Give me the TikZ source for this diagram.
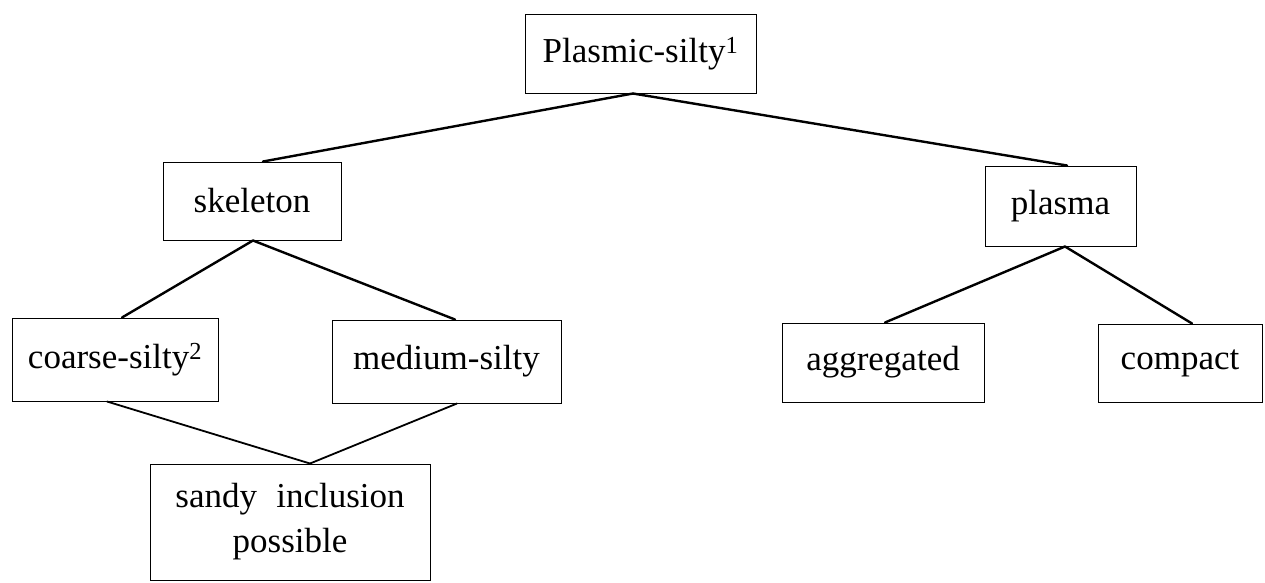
\documentclass[tikz,border=0pt]{standalone}
\usepackage{fontspec}
\setmainfont{Liberation Serif}
\begin{document}
\begin{tikzpicture}[x=1pt,y=-1pt,
  box/.style={draw, line width=1pt, inner sep=0pt,
    font=\fontsize{35}{45}\selectfont},
  link/.style={line width=2.4pt, line cap=round},
  thinlink/.style={line width=1.8pt, line cap=round}]
\useasboundingbox (0,0) rectangle (1265,582);

% classification boxes
\node[box, minimum width=231pt, minimum height=79pt] (top) at (640.5,53.5) {Plasmic-silty\textsuperscript{1}};
\node[box, minimum width=178pt, minimum height=78pt] (skel) at (252,201) {skeleton};
\node[box, minimum width=151pt, minimum height=80pt] (plasma) at (1060.5,206) {plasma};
\node[box, minimum width=206pt, minimum height=83pt] (coarse) at (115,359.5) {coarse-silty\textsuperscript{2}};
\node[box, minimum width=229pt, minimum height=83pt] (medium) at (446.5,361.5) {medium-silty};
\node[box, minimum width=202pt, minimum height=79pt] (aggr) at (883,362.5) {aggregated};
\node[box, minimum width=164pt, minimum height=78pt] (compact) at (1180,363) {compact};
\node[box, minimum width=280pt, minimum height=116pt, align=center] (sandy) at (290,522)
  {sandy\hspace{0.55em}inclusion\\possible};

% tree connectors
\draw[link] ([xshift=-7.5pt]top.south) -- ([xshift=11pt]skel.north);
\draw[link] ([xshift=-7.5pt]top.south) -- ([xshift=6.5pt]plasma.north);
\draw[link] ([xshift=1pt]skel.south) -- ([xshift=7pt]coarse.north);
\draw[link] ([xshift=1pt]skel.south) -- ([xshift=8.5pt]medium.north);
\draw[link] ([xshift=4.5pt]plasma.south) -- ([xshift=2pt]aggr.north);
\draw[link] ([xshift=4.5pt]plasma.south) -- ([xshift=12pt]compact.north);
\draw[thinlink] ([xshift=-8pt]coarse.south) -- ([xshift=20pt]sandy.north);
\draw[thinlink] ([xshift=10.5pt]medium.south) -- ([xshift=20pt]sandy.north);
\end{tikzpicture}
\end{document}
